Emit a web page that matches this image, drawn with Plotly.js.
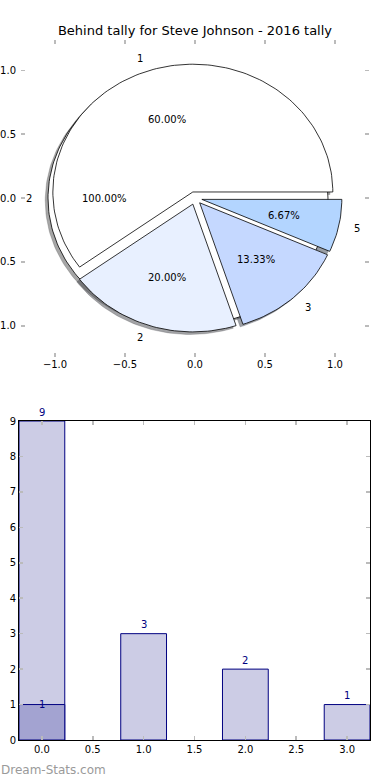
<!DOCTYPE html>
<html>
<head>
<meta charset="utf-8">
<script src="https://cdn.plot.ly/plotly-3.0.1.min.js"></script>
<style>
html,body{margin:0;padding:0;background:#fff;}
#chart{width:390px;height:780px;}
</style>
</head>
<body>
<div id="chart"></div>
<script>
// ---- data ----
const titleText = 'Behind tally for Steve Johnson - 2016 tally';
const pieLabels = ['1', '2', '3', '5'];
const pieValues = [9, 3, 2, 1];
const pieColors = ['#ffffff', '#e8f0ff', '#c5d8ff', '#b3d5ff'];
const outerLabels = ['2'];
const outerValues = [1];
const outerColors = ['#ffffff'];
const explodeAmt = 0.05;
const pieTicks = [-1, -0.5, 0, 0.5, 1];

const barX = [0, 1, 2, 3];
const barY = [9, 3, 2, 1];
const overlayX = [0];
const overlayY = [1];
const barTicksX = [0, 0.5, 1, 1.5, 2, 2.5, 3];
const barTicksY = [0, 1, 2, 3, 4, 5, 6, 7, 8, 9];

// ---- helpers ----
function hexToRgb(h){const n=parseInt(h.slice(1),16);return [(n>>16)&255,(n>>8)&255,n&255];}
function wedgePts(cx, cy, t1, t2, full){
  const xs=[], ys=[];
  if(!full){xs.push(cx); ys.push(cy);}
  const n = Math.max(8, Math.ceil((t2-t1)/1.5));
  for(let i=0;i<=n;i++){
    const a=(t1+(t2-t1)*i/n)*Math.PI/180;
    xs.push(cx+Math.cos(a)); ys.push(cy+Math.sin(a));
  }
  xs.push(xs[0]); ys.push(ys[0]);
  return {xs, ys};
}
function buildPie(values, labels, colors){
  const total = values.reduce((a,b)=>a+b,0);
  let start = 0;
  const out=[];
  values.forEach((v,i)=>{
    const sweep = v/total*360;
    const t1=start, t2=start+sweep, mid=(t1+t2)/2*Math.PI/180;
    const cx=explodeAmt*Math.cos(mid), cy=explodeAmt*Math.sin(mid);
    out.push({t1,t2,cx,cy,mid,color:colors[i],label:labels[i],
      pct:(v/total*100).toFixed(2)+'%', full: sweep>=359.999});
    start=t2;
  });
  return out;
}

const outerPie = buildPie(outerValues, outerLabels, outerColors);
const mainPie = buildPie(pieValues, pieLabels, pieColors);
const allW = outerPie.concat(mainPie);

const traces=[];
// shadows
allW.forEach(w=>{
  const p=wedgePts(w.cx-0.02, w.cy-0.02, w.t1, w.t2, w.full);
  const c=hexToRgb(w.color).map(v=>Math.round(v*0.3));
  const col='rgba('+c.join(',')+',0.5)';
  traces.push({type:'scatter',mode:'lines',x:p.xs,y:p.ys,fill:'toself',fillcolor:col,
    line:{color:col,width:0.5},hoverinfo:'skip',showlegend:false,xaxis:'x',yaxis:'y'});
});
// wedges
allW.forEach(w=>{
  const p=wedgePts(w.cx, w.cy, w.t1, w.t2, w.full);
  traces.push({type:'scatter',mode:'lines',x:p.xs,y:p.ys,fill:'toself',fillcolor:w.color,
    line:{color:'#000000',width:0.8},hoverinfo:'skip',showlegend:false,xaxis:'x',yaxis:'y'});
});

const annotations=[];
const txtFont={family:'DejaVu Sans',size:10,color:'#000'};
// pie texts
allW.forEach(w=>{
  const lx=w.cx+1.1*Math.cos(w.mid), ly=w.cy+1.1*Math.sin(w.mid);
  annotations.push({xref:'x',yref:'y',x:lx,y:ly,text:w.label,showarrow:false,
    xanchor: lx>0?'left':'right',yanchor:'middle',font:txtFont});
  const px=w.cx+0.6*Math.cos(w.mid), py=w.cy+0.6*Math.sin(w.mid);
  annotations.push({xref:'x',yref:'y',x:px,y:py,text:w.pct,showarrow:false,
    xanchor:'center',yanchor:'middle',font:txtFont});
});

// bars
traces.push({type:'bar',x:barX,y:barY,width:0.45,
  marker:{color:'#ccccE5',line:{color:'#000080',width:1}},
  hoverinfo:'skip',showlegend:false,xaxis:'x2',yaxis:'y2'});
traces.push({type:'bar',x:overlayX,y:overlayY,width:0.45,
  marker:{color:'#a3a3d1',line:{color:'#000080',width:1}},
  hoverinfo:'skip',showlegend:false,xaxis:'x2',yaxis:'y2'});
const barFont={family:'DejaVu Sans',size:10,color:'#000080'};
barX.forEach((x,i)=>{
  annotations.push({xref:'x2',yref:'y2',x:x,y:barY[i],yshift:9,text:String(barY[i]),showarrow:false,
    xanchor:'center',yanchor:'middle',font:barFont});
});
overlayX.forEach((x,i)=>{
  annotations.push({xref:'x2',yref:'y2',x:x,y:overlayY[i],text:String(overlayY[i]),showarrow:false,
    xanchor:'center',yanchor:'middle',font:barFont});
});
annotations.push({text:'Dream-Stats.com',xref:'paper',yref:'paper',x:-0.003,xanchor:'left',
  y:1-770/780,yanchor:'middle',showarrow:false,
  font:{family:'DejaVu Sans',size:12,color:'#9a9a9a'}});

const tickFont={family:'DejaVu Sans',size:10,color:'#000'};
const layout={
  width:390,height:780,
  margin:{l:0,r:0,t:0,b:0},
  paper_bgcolor:'#ffffff',plot_bgcolor:'rgba(0,0,0,0)',
  barmode:'overlay',
  title:{text:titleText,x:0.5,xanchor:'center',y:1-30/780,yanchor:'middle',
    font:{family:'DejaVu Sans',size:13,color:'#000'}},
  xaxis:{domain:[21/390,369/390],range:[-1.243,1.243],tickvals:pieTicks,tickformat:'.1f',
    showgrid:false,zeroline:false,showline:false,ticks:'inside',mirror:'ticks',
    tickcolor:'#bbbbbb',ticklen:4,tickwidth:1.5,tickfont:tickFont,anchor:'y'},
  yaxis:{domain:[1-357/780,1-40/780],range:[-1.244,1.237],tickvals:pieTicks,tickformat:'.1f',
    showgrid:false,zeroline:false,showline:false,ticks:'inside',mirror:'ticks',
    tickcolor:'#bbbbbb',ticklen:4,tickwidth:1.5,tickfont:tickFont,anchor:'x',
    ticklabelstandoff:4},
  xaxis2:{domain:[19/390,370/390],range:[-0.225,3.225],tickvals:barTicksX,tickformat:'.1f',
    showgrid:false,zeroline:false,showline:true,linecolor:'#000',linewidth:1,mirror:'ticks',
    ticks:'inside',tickcolor:'#bbbbbb',ticklen:4,tickwidth:1.5,tickfont:tickFont,anchor:'y2'},
  yaxis2:{domain:[1-740/780,1-421/780],range:[0,9],tickvals:barTicksY,
    showgrid:false,zeroline:false,showline:true,linecolor:'#000',linewidth:1,mirror:'ticks',
    ticks:'inside',tickcolor:'#bbbbbb',ticklen:4,tickwidth:1.5,tickfont:tickFont,anchor:'x2'},
  annotations:annotations
};
Plotly.newPlot('chart',traces,layout,{staticPlot:true,displayModeBar:false});
</script>
</body>
</html>
